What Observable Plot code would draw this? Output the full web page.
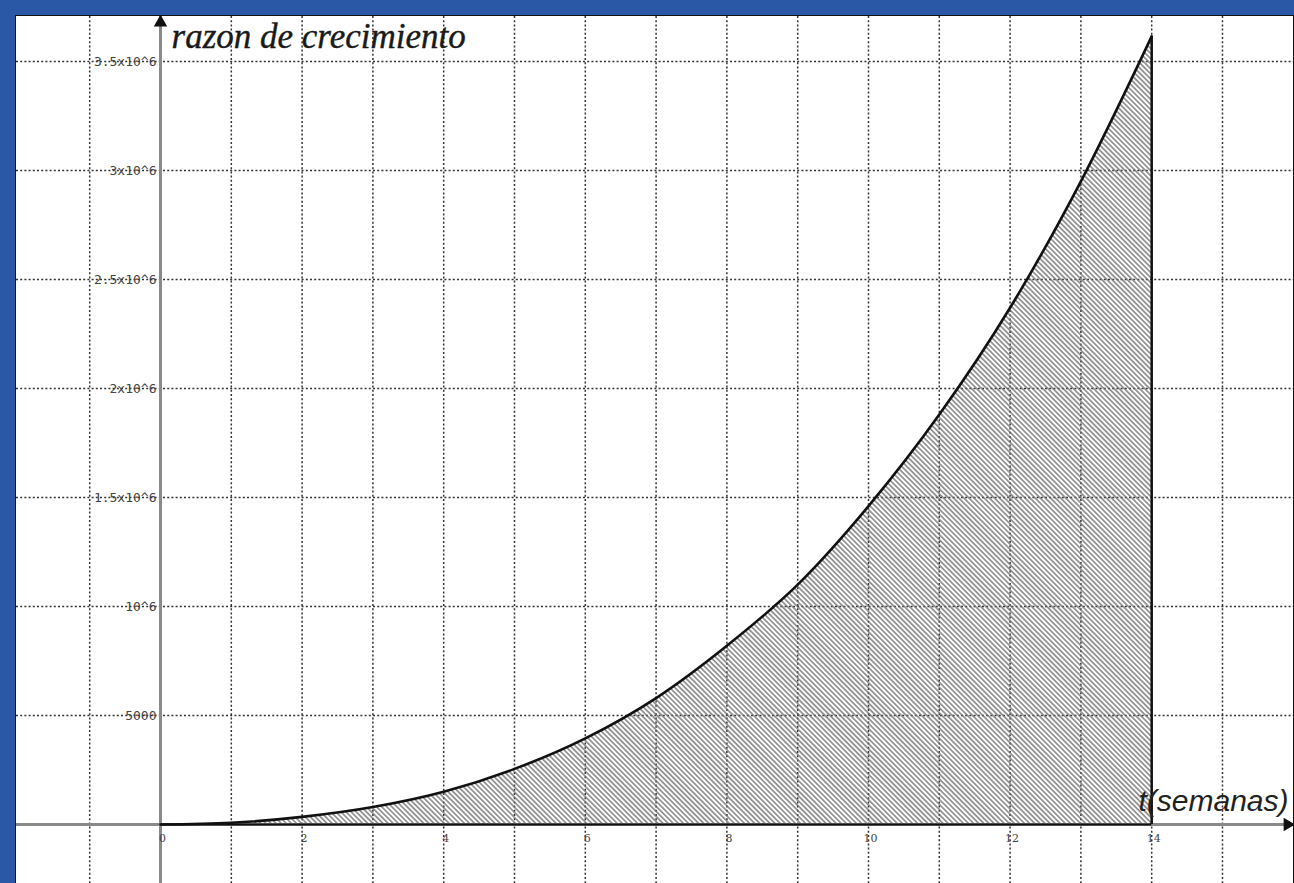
<!DOCTYPE html>
<html>
<head>
<meta charset="utf-8">
<script src="https://cdn.jsdelivr.net/npm/d3@7"></script>
<script src="https://cdn.jsdelivr.net/npm/@observablehq/plot@0.6"></script>
<style>
  html, body { margin: 0; padding: 0; }
  body { width: 1294px; height: 883px; background: #2b57a7; overflow: hidden; position: relative; }
  #frame { position: absolute; left: 15px; top: 15px; width: 1277px; height: 868px;
           border-left: 1px solid #111; border-top: 1px solid #111; border-right: 1px solid #111;
           background: #fff; overflow: hidden; }
  #frame svg { display: block; }
</style>
</head>
<body>
<div id="frame"></div>
<script>
// weeks (t) and growth rate (millions)
const weeks  = [0, 1, 2, 3, 4, 5, 6, 7, 8, 9, 10, 11, 12, 13, 14];
const growth = [0, 0.008, 0.035, 0.08, 0.15, 0.255, 0.395, 0.58, 0.82, 1.1, 1.46, 1.88, 2.37, 2.95, 3.615];

const xGrid = [-1, 0, 1, 2, 3, 4, 5, 6, 7, 8, 9, 10, 11, 12, 13, 14, 15];
const xTickValues = [0, 2, 4, 6, 8, 10, 12, 14];
const xTickLabels = ["0", "2", "4", "6", "8", "10", "12", "14"];
const yTickValues = [0.5, 1, 1.5, 2, 2.5, 3, 3.5];
const yTickLabels = ["5000", "10^6", "1.5x10^6", "2x10^6", "2.5x10^6", "3x10^6", "3.5x10^6"];

const titleText = "razon de crecimiento";
const xLabelText = "t(semanas)";

const data = weeks.map((t, i) => ({t, v: growth[i]}));
const xDomain = [-2.034, 16.003];
const yDomain = [-0.2706, 3.706];
const tEnd = weeks[weeks.length - 1];
const vEnd = growth[growth.length - 1];

const gridStyle = {stroke: "#333", strokeWidth: 1.5, strokeDasharray: "2,2.2"};

const chart = Plot.plot({
  width: 1277,
  height: 867,
  margin: 0,
  style: {background: "#fff", overflow: "visible"},
  x: {domain: xDomain, axis: null},
  y: {domain: yDomain, axis: null},
  marks: [
    Plot.ruleX(xGrid.filter(d => d !== 0), gridStyle),
    Plot.ruleY(yTickValues, gridStyle),
    Plot.areaY(data, {x: "t", y: "v", fill: "url(#hatch)", curve: "monotone-x"}),
    // axes
    Plot.ruleX([0], {stroke: "#8a8a8a", strokeWidth: 3}),
    Plot.ruleY([0], {stroke: "#8a8a8a", strokeWidth: 3}),
    // outline of the shaded region
    Plot.ruleY([0], {x1: 0, x2: tEnd, stroke: "#111", strokeWidth: 2.2}),
    Plot.ruleX([tEnd], {y1: 0, y2: vEnd, stroke: "#111", strokeWidth: 2.5}),
    Plot.line(data, {x: "t", y: "v", stroke: "#111", strokeWidth: 2.6, curve: "monotone-x"}),
    // arrow heads
    Plot.dot([{x: 0, y: yDomain[1]}], {x: "x", y: "y", symbol: "triangle", r: 5, fill: "#111", stroke: "none", dy: 6}),
    Plot.dot([{x: xDomain[1], y: 0}], {x: "x", y: "y", symbol: "triangle", r: 5, fill: "#111", stroke: "none", rotate: 90, dx: -6}),
    // tick labels
    Plot.text(yTickValues, {x: 0, y: d => d, text: (d, i) => yTickLabels[i], textAnchor: "end", dx: -4,
      fontFamily: "DejaVu Sans Mono", fontSize: 13, fill: "#444"}),
    Plot.text(xTickValues, {x: d => d, y: 0, text: (d, i) => xTickLabels[i], dy: 14, dx: 2,
      fontFamily: "DejaVu Serif", fontSize: 11, fill: "#444"}),
    // axis titles
    Plot.text([titleText], {x: 0, y: yDomain[1], text: d => d, textAnchor: "start", lineAnchor: "top",
      dx: 11, dy: 7, fontFamily: "Liberation Serif", fontStyle: "italic", fontSize: 35, fill: "#1a1a1a",
      stroke: "#1a1a1a", strokeWidth: 0.4}),
    Plot.text([xLabelText], {x: xDomain[1], y: 0, text: d => d, textAnchor: "end", lineAnchor: "bottom",
      dx: -5, dy: -14, fontFamily: "Liberation Sans", fontStyle: "italic", fontSize: 30, fill: "#222"})
  ]
});

const ns = "http://www.w3.org/2000/svg";
const defs = document.createElementNS(ns, "defs");
defs.innerHTML = '<pattern id="hatch" patternUnits="userSpaceOnUse" width="3.6" height="10" patternTransform="rotate(-45)">' +
  '<line x1="1.8" y1="0" x2="1.8" y2="10" stroke="#6a6a6a" stroke-width="1.3"/></pattern>';
chart.insertBefore(defs, chart.firstChild);

document.getElementById("frame").appendChild(chart);
</script>
</body>
</html>
